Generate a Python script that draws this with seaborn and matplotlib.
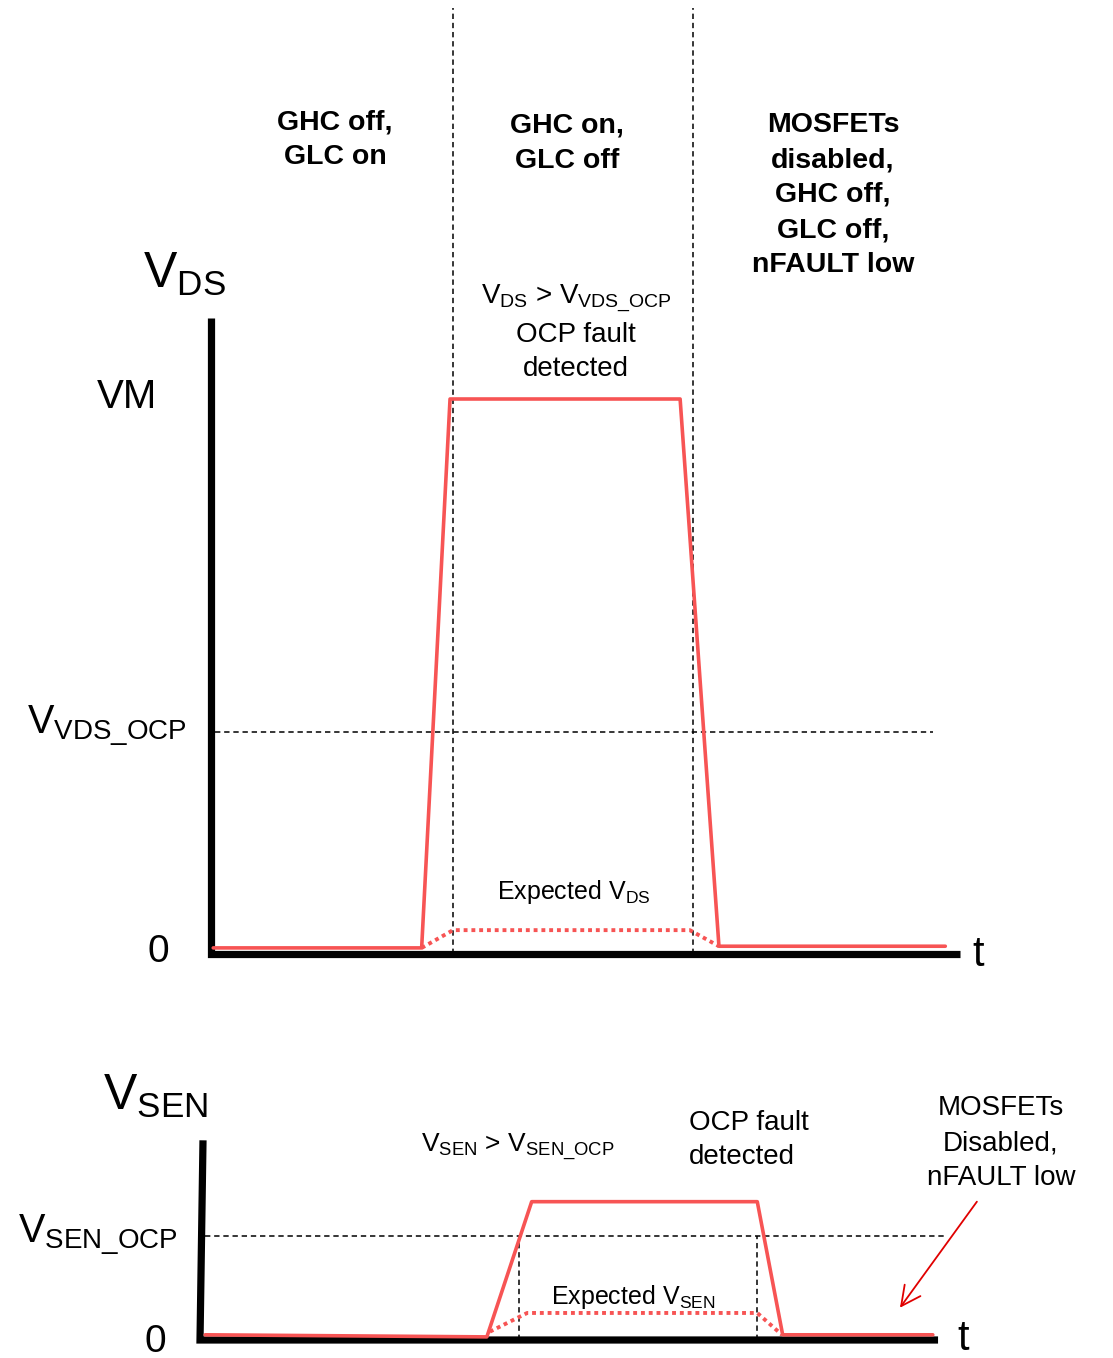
import seaborn as sns
import matplotlib.pyplot as plt

# upper panel: V_DS waveform (t in arbitrary units, voltage relative to VM)
vds_t = [0.3, 28.2, 32.0, 62.8, 68.0, 98.3]
vds_v = [0.011, 0.011, 1.0, 1.0, 0.014, 0.014]
exp_vds_t = [28.2, 32.4, 64.1, 68.0]
exp_vds_v = [0.011, 0.043, 0.043, 0.014]
vds_phase_t = [32.4, 64.5]
vds_ocp = 0.40
vm_level = 1.0

# lower panel: V_SEN waveform (voltage relative to V_SEN_OCP)
sen_t = [0.3, 38.0, 44.0, 74.2, 77.6, 97.7]
sen_v = [0.05, 0.03, 1.33, 1.33, 0.05, 0.05]
exp_sen_t = [38.4, 43.4, 74.2, 77.5]
exp_sen_v = [0.08, 0.26, 0.26, 0.05]
sen_phase_t = [42.3, 74.2]
sen_ocp = 1.0

phase_labels = ["GHC off,\nGLC on", "GHC on,\nGLC off",
                "MOSFETs\ndisabled,\nGHC off,\nGLC off,\nnFAULT low"]

sns.set_style("white")
plt.rcParams['font.family'] = ['Liberation Sans', 'DejaVu Sans']
plt.rcParams['text.color'] = 'black'
plt.rcParams['mathtext.fontset'] = 'custom'
plt.rcParams['mathtext.rm'] = 'Liberation Sans'
plt.rcParams['mathtext.it'] = 'Liberation Sans:italic'
plt.rcParams['mathtext.bf'] = 'Liberation Sans:bold'

RED = '#f75454'
W, H = 1113, 1358
PX_T = 7.47  # pixels per time unit, same for both panels

fig = plt.figure(figsize=(W / 100, H / 100), dpi=100)

# top panel: t=0 at x=211px, 0V at y=954px, VM 555px above
ax_top = fig.add_axes([0, 358 / H, 1, 1000 / H])
# bottom panel: t=0 at x=203px, 0V at y=1340px, V_SEN_OCP 104px above
ax_bot = fig.add_axes([0, 0, 1, 358 / H])

dash = dict(color='black', lw=1.1, linestyle=(0, (3.5, 2.5)))

# ---- top panel ----
ax_top.plot([0, 0, 100.3], [1.146, 0, 0], color='black', lw=5.2,
            solid_joinstyle='miter', solid_capstyle='butt', zorder=2)
ax_top.hlines(vds_ocp, 0.5, 96.7, **dash)
ax_top.vlines(vds_phase_t, 0, 1.705, **dash)
sns.lineplot(x=vds_t, y=vds_v, ax=ax_top, color=RED, linewidth=2.6,
             sort=False, estimator=None, zorder=4)
sns.lineplot(x=exp_vds_t, y=exp_vds_v, ax=ax_top, color=RED, linewidth=2.8,
             linestyle=(0, (1, 1)), sort=False, estimator=None, zorder=4)
ax_top.set_xlim(-211 / PX_T, (W - 211) / PX_T)
ax_top.set_ylim((954 - 1000) / 555, 954 / 555)
ax_top.axis('off')

# ---- bottom panel ----
ax_bot.plot([0, -0.4, 98.4], [1.92, 0, 0], color='black', lw=5.2,
            solid_joinstyle='miter', solid_capstyle='butt', zorder=2)
ax_bot.hlines(sen_ocp, 0.3, 99.3, **dash)
ax_bot.vlines(sen_phase_t, 0, sen_ocp, **dash)
sns.lineplot(x=sen_t, y=sen_v, ax=ax_bot, color=RED, linewidth=2.6,
             sort=False, estimator=None, zorder=4)
sns.lineplot(x=exp_sen_t, y=exp_sen_v, ax=ax_bot, color=RED, linewidth=2.8,
             linestyle=(0, (1, 1)), sort=False, estimator=None, zorder=4)
ax_bot.annotate('', xy=(93.3, 0.31), xytext=(103.6, 1.33),
                arrowprops=dict(arrowstyle='->,head_length=0.7,head_width=0.35',
                                color='#e00000', lw=1.3, mutation_scale=20,
                                shrinkA=0, shrinkB=0))
ax_bot.set_xlim(-203 / PX_T, (W - 203) / PX_T)
ax_bot.set_ylim((1340 - 1358) / 104, (1340 - 1000) / 104)
ax_bot.axis('off')


def ftext(px, py, s, **kw):
    # place text by pixel position in the figure
    fig.text(px / W, 1 - py / H, s, **kw)


# phase descriptions (bold)
for s, (px, py) in zip(phase_labels, [(335, 140), (567, 143), (833, 195)]):
    ftext(px, py, s, ha='center', va='center', fontsize=20.5,
          fontweight='bold', linespacing=1.45)

ftext(143, 288, r'V$_{\mathrm{DS}}$', fontsize=36, va='baseline')
ftext(97, 408, 'VM', fontsize=29, va='baseline')
ftext(27, 733, r'V$_{\mathrm{VDS\_OCP}}$', fontsize=28.5, va='baseline')
ftext(148, 962, '0', fontsize=28, va='baseline')
ftext(972, 966, 't', fontsize=30, va='baseline')
ftext(576, 332, 'V$_{\\mathrm{DS}}$ > V$_{\\mathrm{VDS\\_OCP}}$\nOCP fault\ndetected',
      ha='center', va='center', fontsize=20, linespacing=1.4)
ftext(574, 899, r'Expected V$_{\mathrm{DS}}$', ha='center', va='baseline',
      fontsize=18)

ftext(103, 1110, r'V$_{\mathrm{SEN}}$', fontsize=36, va='baseline')
ftext(18, 1242, r'V$_{\mathrm{SEN\_OCP}}$', fontsize=28.5, va='baseline')
ftext(145, 1352, '0', fontsize=28, va='baseline')
ftext(957, 1350, 't', fontsize=30, va='baseline')
ftext(518, 1147, r'V$_{\mathrm{SEN}}$ > V$_{\mathrm{SEN\_OCP}}$', ha='center',
      va='center', fontsize=19)
ftext(689, 1140, 'OCP fault\ndetected', ha='left', va='center', fontsize=20,
      linespacing=1.45)
ftext(1001, 1143, 'MOSFETs\nDisabled,\nnFAULT low', ha='center', va='center',
      fontsize=20, linespacing=1.45)
ftext(633, 1304, r'Expected V$_{\mathrm{SEN}}$', ha='center', va='baseline',
      fontsize=18)

fig.savefig('out.png', dpi=100)
